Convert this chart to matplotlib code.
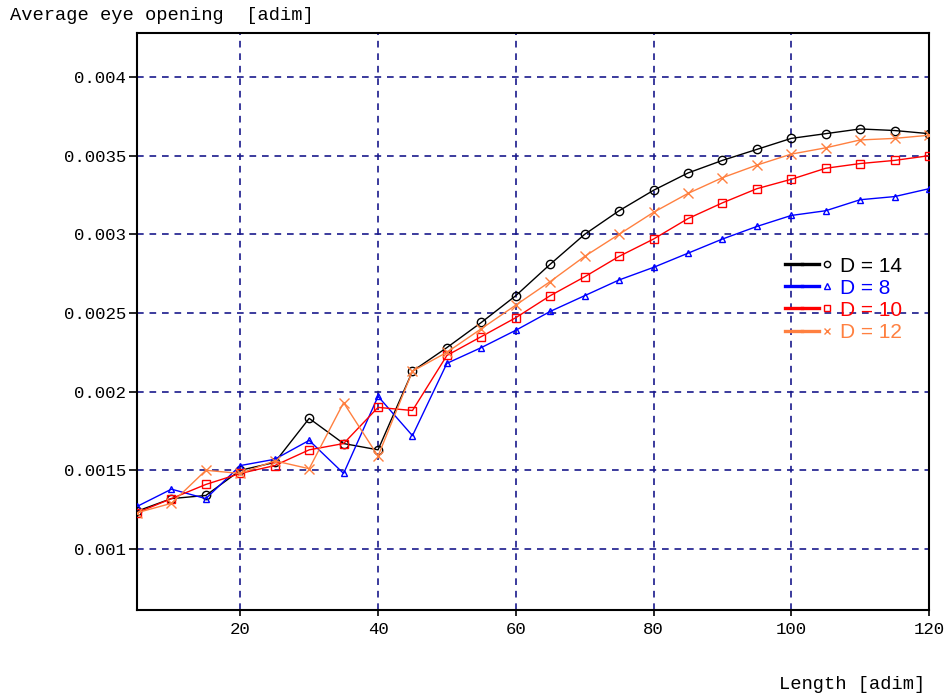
import matplotlib
matplotlib.use("Agg")
import matplotlib.pyplot as plt
from matplotlib.ticker import FuncFormatter
from matplotlib.legend_handler import HandlerTuple
from matplotlib.lines import Line2D

# data
length = [5, 10, 15, 20, 25, 30, 35, 40, 45, 50, 55, 60,
          65, 70, 75, 80, 85, 90, 95, 100, 105, 110, 115, 120]

d14 = [0.00124, 0.00132, 0.00134, 0.00150, 0.00155, 0.00183, 0.00167, 0.00163,
       0.00213, 0.00228, 0.00244, 0.00261, 0.00281, 0.00300, 0.00315, 0.00328,
       0.00339, 0.00347, 0.00354, 0.00361, 0.00364, 0.00367, 0.00366, 0.00364]
d8 = [0.00127, 0.00138, 0.00132, 0.00153, 0.00157, 0.00169, 0.00148, 0.00197,
      0.00172, 0.00218, 0.00228, 0.00239, 0.00251, 0.00261, 0.00271, 0.00279,
      0.00288, 0.00297, 0.00305, 0.00312, 0.00315, 0.00322, 0.00324, 0.00329]
d10 = [0.00123, 0.00132, 0.00141, 0.00148, 0.00153, 0.00163, 0.00167, 0.00190,
       0.00188, 0.00223, 0.00235, 0.00247, 0.00261, 0.00273, 0.00286, 0.00297,
       0.00310, 0.00320, 0.00329, 0.00335, 0.00342, 0.00345, 0.00347, 0.00350]
d12 = [0.00123, 0.00129, 0.00150, 0.00148, 0.00156, 0.00151, 0.00193, 0.00159,
       0.00213, 0.00225, 0.00240, 0.00255, 0.00270, 0.00286, 0.00300, 0.00314,
       0.00326, 0.00336, 0.00344, 0.00351, 0.00355, 0.00360, 0.00361, 0.00363]

labels = ["D = 14", "D = 8", "D = 10", "D = 12"]
colors = ["black", "#0000ff", "#ff0000", "#ff8040"]
markers = ["o", "^", "s", "x"]
msizes = [6, 4.5, 6, 6.5]

mono = "Liberation Mono"

fig = plt.figure(figsize=(9.5, 6.96), dpi=100)
ax = fig.add_axes([0.1442, 0.1236, 0.8337, 0.829])

handles = []
for ys, lab, c, m, ms in zip([d14, d8, d10, d12], labels, colors, markers, msizes):
    ax.plot(length, ys, color=c, lw=1.0, marker=m, ms=ms,
            mfc="none", mec=c, mew=1.0, zorder=3)
    ln = Line2D([], [], color=c, lw=2.4)
    mk = Line2D([], [], color=c, marker=m, ls="none", ms=4.5, mfc="none", mew=1.0)
    # line twice so the line takes two thirds of the handle, marker one third
    handles.append((ln, ln, mk))

ax.set_xlim(5, 120)
ax.set_ylim(0.000612, 0.00428)
ax.set_xticks([20, 40, 60, 80, 100, 120])
ax.set_yticks([0.001, 0.0015, 0.002, 0.0025, 0.003, 0.0035, 0.004])
ax.yaxis.set_major_formatter(FuncFormatter(lambda v, p: "%g" % v))

ax.grid(True, color="#1a1a8c", ls=(0, (4, 3.5)), lw=1.2)
for s in ax.spines.values():
    s.set_linewidth(1.5)
ax.tick_params(axis="x", direction="out", length=4, width=1.2, labelsize=12.5, pad=5)
ax.tick_params(axis="y", direction="out", length=6, width=1.2, labelsize=12.5, pad=2)
for t in ax.get_xticklabels() + ax.get_yticklabels():
    t.set_fontfamily(mono)

leg = ax.legend(handles, labels, handler_map={tuple: HandlerTuple(ndivide=None, pad=0)},
                loc="upper left", bbox_to_anchor=(0.808, 0.627), frameon=False,
                fontsize=15, handlelength=2.4, handletextpad=0.25,
                labelspacing=0.15, borderaxespad=0)
for t, c in zip(leg.get_texts(), colors):
    t.set_color(c)
    t.set_fontfamily("Liberation Sans")

fig.text(0.011, 0.978, "Average eye opening  [adim]", fontsize=13.5, family=mono,
         va="center", ha="left")
fig.text(0.974, 0.016, "Length [adim]", fontsize=13.5, family=mono,
         va="center", ha="right")

fig.savefig("out.png", dpi=100)
